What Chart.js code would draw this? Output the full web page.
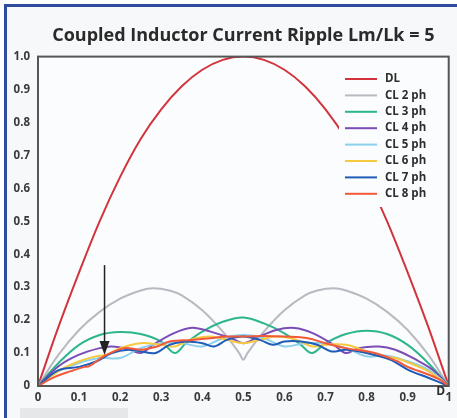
<!DOCTYPE html>
<html>
<head>
<meta charset="utf-8">
<script src="https://cdn.jsdelivr.net/npm/chart.js@4.4.1/dist/chart.umd.min.js"></script>
<style>
  body { margin: 0; background: #ffffff; }
  .frame {
    position: absolute; left: 4px; top: 4px; width: 453px; height: 414px;
    border-left: 3px solid #2f4c9e; border-top: 3px solid #2f4c9e;
    box-sizing: border-box; background: #f6f8fa;
  }
  .tab { position: absolute; left: 20px; top: 408px; width: 108px; height: 10px; background: #e6e7e8; }
  .wrap { position: absolute; left: 0; top: 0; width: 457px; height: 418px; }
</style>
</head>
<body>
<div class="frame"></div>
<div class="tab"></div>
<div class="wrap"><canvas id="myChart" width="457" height="418"></canvas></div>
<script>
// values, x = duty cycle D
const dlD = [0, 0.05, 0.1, 0.15, 0.2, 0.25, 0.3, 0.35, 0.4, 0.45, 0.5, 0.55, 0.6, 0.65, 0.7, 0.75, 0.8, 0.85, 0.9, 0.95, 1];
const dlVal = [0, 0.18, 0.345, 0.5, 0.635, 0.75, 0.84, 0.91, 0.96, 0.99, 1.0, 0.99, 0.96, 0.91, 0.84, 0.75, 0.635, 0.5, 0.345, 0.18, 0];

const cl2D = [0, 0.05, 0.1, 0.15, 0.2, 0.25, 0.28, 0.32, 0.35, 0.4, 0.45, 0.49, 0.5, 0.51, 0.55, 0.6, 0.65, 0.68, 0.72, 0.75, 0.8, 0.85, 0.9, 0.95, 1];
const cl2Val = [0, 0.095, 0.17, 0.225, 0.265, 0.29, 0.297, 0.29, 0.275, 0.23, 0.165, 0.1, 0.08, 0.1, 0.165, 0.23, 0.275, 0.29, 0.297, 0.29, 0.265, 0.225, 0.17, 0.095, 0];

const cl3D = [0, 0.05, 0.1, 0.15, 0.2, 0.25, 0.3, 0.333, 0.36, 0.4, 0.45, 0.5, 0.55, 0.6, 0.64, 0.667, 0.7, 0.75, 0.8, 0.85, 0.9, 0.95, 1];
const cl3Val = [0, 0.07, 0.125, 0.155, 0.164, 0.158, 0.135, 0.1, 0.13, 0.165, 0.195, 0.208, 0.19, 0.16, 0.125, 0.1, 0.13, 0.158, 0.168, 0.158, 0.125, 0.07, 0];

const cl4D = [0, 0.05, 0.1, 0.15, 0.18, 0.22, 0.25, 0.28, 0.33, 0.375, 0.42, 0.47, 0.5, 0.53, 0.58, 0.625, 0.67, 0.72, 0.75, 0.78, 0.83, 0.87, 0.92, 0.96, 1];
const cl4Val = [0, 0.06, 0.095, 0.115, 0.12, 0.112, 0.1, 0.125, 0.16, 0.177, 0.165, 0.145, 0.13, 0.145, 0.17, 0.176, 0.16, 0.125, 0.1, 0.115, 0.12, 0.11, 0.08, 0.05, 0];

const cl5D = [0, 0.05, 0.1, 0.15, 0.2, 0.25, 0.3, 0.35, 0.4, 0.45, 0.5, 0.55, 0.6, 0.65, 0.7, 0.75, 0.8, 0.85, 0.9, 0.95, 1];
const cl5Val = [0, 0.045, 0.07, 0.085, 0.085, 0.115, 0.13, 0.13, 0.12, 0.145, 0.155, 0.145, 0.12, 0.13, 0.13, 0.115, 0.09, 0.092, 0.075, 0.05, 0];

const cl6D = [0, 0.05, 0.1, 0.14, 0.167, 0.2, 0.25, 0.3, 0.333, 0.37, 0.42, 0.46, 0.5, 0.54, 0.58, 0.63, 0.667, 0.7, 0.75, 0.8, 0.833, 0.87, 0.9, 0.95, 1];
const cl6Val = [0, 0.045, 0.075, 0.09, 0.095, 0.115, 0.13, 0.125, 0.12, 0.14, 0.15, 0.14, 0.13, 0.14, 0.15, 0.14, 0.12, 0.125, 0.125, 0.105, 0.09, 0.085, 0.072, 0.045, 0];

const cl7D = [0, 0.05, 0.1, 0.143, 0.18, 0.22, 0.25, 0.286, 0.32, 0.36, 0.4, 0.429, 0.46, 0.5, 0.54, 0.571, 0.6, 0.64, 0.68, 0.714, 0.75, 0.8, 0.857, 0.9, 0.95, 1];
const cl7Val = [0, 0.048, 0.058, 0.075, 0.1, 0.11, 0.105, 0.1, 0.125, 0.135, 0.13, 0.12, 0.14, 0.15, 0.14, 0.125, 0.135, 0.135, 0.125, 0.105, 0.11, 0.1, 0.08, 0.05, 0.025, 0];

const cl8D = [0, 0.04, 0.08, 0.113, 0.125, 0.16, 0.21, 0.25, 0.29, 0.32, 0.375, 0.42, 0.46, 0.5, 0.55, 0.6, 0.657, 0.7, 0.75, 0.82, 0.875, 0.9, 0.95, 0.98, 1];
const cl8Val = [0, 0.027, 0.045, 0.058, 0.06, 0.09, 0.115, 0.11, 0.12, 0.135, 0.14, 0.145, 0.15, 0.15, 0.152, 0.15, 0.145, 0.13, 0.115, 0.1, 0.075, 0.058, 0.035, 0.018, 0];

const seriesNames = ["DL", "CL 2 ph", "CL 3 ph", "CL 4 ph", "CL 5 ph", "CL 6 ph", "CL 7 ph", "CL 8 ph"];
const seriesColors = ["#d2343c", "#b9b9c2", "#2db58c", "#7a4db6", "#8dd0ee", "#f6c940", "#1f5cb8", "#f2583a"];

const xTickLabels = ["0", "0.1", "0.2", "0.3", "0.4", "0.5", "0.6", "0.7", "0.8", "0.9", "1"];
const yTickLabels = ["0", "0.1", "0.2", "0.3", "0.4", "0.5", "0.6", "0.7", "0.8", "0.9", "1.0"];

// arrow marking D ~ 0.16
const arrowD = 0.162;
const arrowFrom = 0.367;
const arrowTo = 0.094;

const xsList = [dlD, cl2D, cl3D, cl4D, cl5D, cl6D, cl7D, cl8D];
const ysList = [dlVal, cl2Val, cl3Val, cl4Val, cl5Val, cl6Val, cl7Val, cl8Val];

const datasets = seriesNames.map((name, i) => ({
  label: name,
  data: xsList[i].map((x, j) => ({ x: x, y: ysList[i][j] })),
  borderColor: seriesColors[i],
  backgroundColor: seriesColors[i],
  borderWidth: 2,
  pointRadius: 0,
  tension: 0.35,
  fill: false,
  order: 8 - i,
}));

const tickFont = { family: "'Open Sans', sans-serif", size: 11.5, weight: "bold" };

// plot background, box, arrow and legend
const extras = {
  id: "extras",
  beforeDatasetsDraw(chart) {
    const a = chart.chartArea;
    const ctx = chart.ctx;
    ctx.save();
    ctx.fillStyle = "#fbfcfd";
    ctx.fillRect(a.left, a.top, a.right - a.left, a.bottom - a.top);
    ctx.restore();
  },
  afterDatasetsDraw(chart) {
    const a = chart.chartArea;
    const ctx = chart.ctx;
    const xs = chart.scales.x;
    const ys = chart.scales.y;
    ctx.save();
    // arrow
    const ax = xs.getPixelForValue(arrowD);
    const ay1 = ys.getPixelForValue(arrowFrom);
    const ay2 = ys.getPixelForValue(arrowTo);
    ctx.strokeStyle = "#222";
    ctx.fillStyle = "#222";
    ctx.lineWidth = 1.5;
    ctx.beginPath();
    ctx.moveTo(ax, ay1);
    ctx.lineTo(ax, ay2 - 12);
    ctx.stroke();
    ctx.beginPath();
    ctx.moveTo(ax - 5, ay2 - 14);
    ctx.lineTo(ax + 5, ay2 - 14);
    ctx.lineTo(ax, ay2);
    ctx.closePath();
    ctx.fill();

    // legend box
    const lx = 339, ly = 64, lw = a.right - 339 - 1, lh = 143;
    ctx.fillStyle = "#fbfcfd";
    ctx.fillRect(lx, ly, lw, lh);
    ctx.font = "bold 11.5px 'Open Sans', sans-serif";
    ctx.textBaseline = "middle";
    chart.data.datasets.forEach((ds, i) => {
      const y = 79 + i * 16.4;
      ctx.strokeStyle = ds.borderColor;
      ctx.lineWidth = 2;
      ctx.beginPath();
      ctx.moveTo(345, y);
      ctx.lineTo(377, y);
      ctx.stroke();
      ctx.fillStyle = "#2e2e2e";
      ctx.fillText(ds.label, 385, y);
    });

    // frame of the plot
    ctx.strokeStyle = "#555";
    ctx.lineWidth = 2;
    ctx.strokeRect(a.left, a.top, a.right - a.left, a.bottom - a.top);

    // axis name D
    ctx.fillStyle = "#2e2e2e";
    ctx.font = "bold 12px 'Open Sans', sans-serif";
    ctx.textAlign = "center";
    ctx.fillText("D", xs.getPixelForValue(1) - 8, a.bottom + 6);
    ctx.restore();
  },
};

var ctx = document.getElementById("myChart").getContext("2d");
var myChart = new Chart(ctx, {
  type: "line",
  data: { datasets: datasets },
  plugins: [extras],
  options: {
    responsive: false,
    devicePixelRatio: 1,
    animation: false,
    layout: { padding: { left: 0, right: 5, top: 0, bottom: 0 } },
    plugins: {
      legend: { display: false },
      tooltip: { enabled: false },
      title: {
        display: true,
        text: "Coupled Inductor Current Ripple Lm/Lk = 5",
        color: "#2a2a2a",
        fullSize: false,
        font: { family: "'Open Sans', sans-serif", size: 18, weight: "bold", lineHeight: 1.2 },
        padding: { top: 25, bottom: 10 },
      },
    },
    scales: {
      x: {
        type: "linear",
        min: 0,
        max: 1,
        grid: { display: false, drawTicks: false },
        border: { display: true, color: "#555", width: 2 },
        ticks: {
          stepSize: 0.1,
          autoSkip: false,
          maxRotation: 0,
          padding: 5,
          color: "#3a3a3a",
          font: tickFont,
          callback: (v, i) => xTickLabels[i],
        },
        afterFit: (s) => { s.height = 32; },
      },
      y: {
        min: 0,
        max: 1,
        grid: { display: false, drawTicks: false },
        border: { display: true, color: "#555", width: 2 },
        ticks: {
          stepSize: 0.1,
          padding: 8,
          color: "#3a3a3a",
          font: tickFont,
          callback: (v, i) => yTickLabels[i],
        },
        afterFit: (s) => { s.width = 38; },
      },
    },
  },
});
</script>
</body>
</html>
